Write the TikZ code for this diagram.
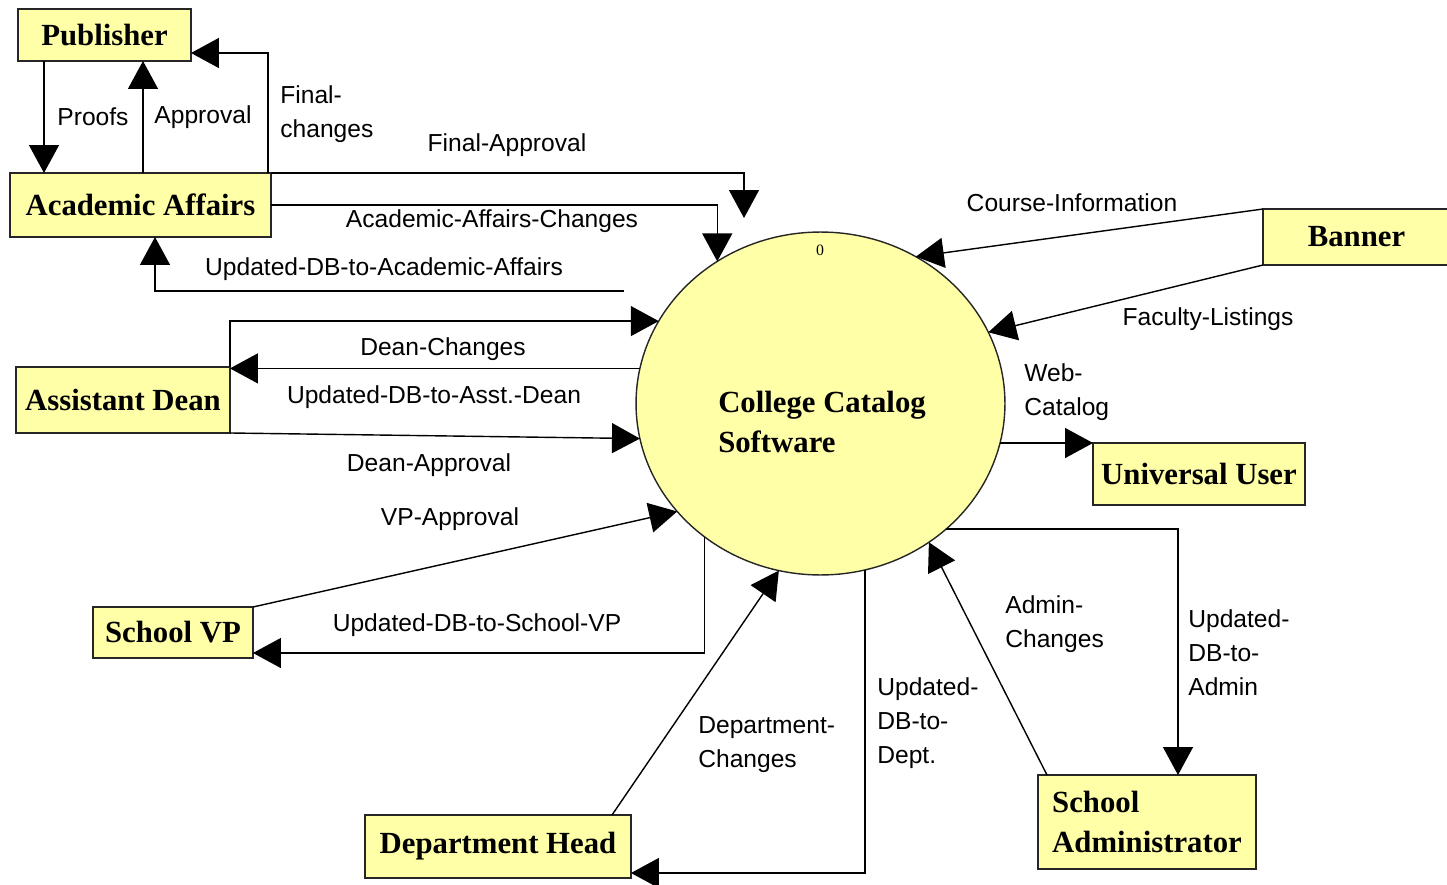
\documentclass[tikz,border=0pt]{standalone}
\usepackage{fontspec}
\setmainfont{Liberation Serif}
\setsansfont{Liberation Sans}
\usetikzlibrary{arrows.meta,shapes.geometric}

\definecolor{boxfill}{HTML}{FFFFA8}

\tikzset{
    entity/.style={draw=black!85, line width=1pt, fill=boxfill, inner sep=0pt, outer sep=0pt,
        font=\fontsize{17.5}{22.8}\selectfont\bfseries},
    flow/.style={draw, line width=0.8pt, -{Triangle[length=0.56cm, width=0.6cm]}},
    lbl/.style={font=\sffamily\fontsize{14}{19.3}\selectfont, inner sep=0pt},
}

\begin{document}
\begin{tikzpicture}[x=0.02cm, y=-0.02cm]
    \useasboundingbox (0,0) rectangle (1447,885);

    % Central process
    \node[ellipse, draw=black!85, line width=0.8pt, fill=boxfill, inner sep=0pt, outer sep=0pt,
        minimum width=7.38cm, minimum height=6.86cm] (ccs) at (820.5,403.5) {};
    \node[font=\fontsize{17.5}{22.8}\selectfont\bfseries, align=left] (ccstext) at (822,422) {College Catalog\\Software};
    \node[font=\fontsize{9}{10}\selectfont] (ccsnum) at (820,250) {0};

    % External entities
    \node[entity, minimum width=3.46cm, minimum height=1.04cm] (pub) at (104.5,35) {Publisher};
    \node[entity, minimum width=5.22cm, minimum height=1.28cm] (acad) at (140.5,205) {Academic Affairs};
    \node[entity, minimum width=3.74cm, minimum height=1.12cm] (banner) at (1356.5,237) {Banner};
    \node[entity, minimum width=4.28cm, minimum height=1.32cm] (adean) at (123,400) {Assistant Dean};
    \node[entity, minimum width=4.24cm, minimum height=1.24cm] (user) at (1199,474) {Universal User};
    \node[entity, minimum width=3.2cm, minimum height=1.02cm] (vp) at (173,632.5) {School VP};
    \node[entity, minimum width=5.32cm, minimum height=1.26cm] (dhead) at (498,846.5) {Department Head};
    \node[entity, minimum width=4.36cm, minimum height=1.88cm, align=left] (sadmin) at (1147,822) {School\\Administrator};

    % Free ends
    \coordinate (fa) at (744,218);
    \coordinate (fb) at (624,291);

    % Publisher <-> Academic Affairs
    \draw[flow] (44,0 |- pub.south) -- (44,0 |- acad.north);
    \draw[flow] (143,0 |- acad.north) -- (143,0 |- pub.south);
    \draw[flow] (268,0 |- acad.north) |- (pub.east |- 0,53);
    \node[lbl] (lproofs) at (93,117) {Proofs};
    \node[lbl] (lapproval) at (203,117) {Approval};
    \node[lbl, anchor=west, align=left] (lfinalch) at (280,114) {Final-\\changes};

    % Academic Affairs <-> process
    \draw[flow] (acad.north east) -| (fa);
    \draw[flow] (acad.east) -| (ccs.126);
    \draw[flow] (fb) -| (155,0 |- acad.south);
    \node[lbl] (lfinalapp) at (507,145) {Final-Approval};
    \node[lbl] (laachanges) at (492,221) {Academic-Affairs-Changes};
    \node[lbl] (ldbaa) at (384,269) {Updated-DB-to-Academic-Affairs};

    % Assistant Dean
    \draw[flow] (adean.north east) |- (ccs.153);
    \draw[flow] (ccs.169) -- (adean.east |- ccs.169);
    \draw[flow] (adean.south east) -- (ccs.191);
    \node[lbl] (ldeanch) at (443,349) {Dean-Changes};
    \node[lbl] (ldbdean) at (434,397) {Updated-DB-to-Asst.-Dean};
    \node[lbl] (ldeanapp) at (429,465) {Dean-Approval};

    % School VP
    \draw[flow] (vp.north east) -- (ccs.217);
    \draw[flow] (ccs.229) |- (vp.east |- 0,653);
    \node[lbl] (lvpapp) at (450,519) {VP-Approval};
    \node[lbl] (ldbvp) at (477,625) {Updated-DB-to-School-VP};

    % Department Head
    \draw[flow] (612,0 |- dhead.north) -- (ccs.256);
    \draw[flow] (ccs.285) |- (dhead.east |- 0,873);
    \node[lbl, anchor=west, align=left] (ldeptch) at (698,745) {Department-\\Changes};
    \node[lbl, anchor=west, align=left] (ldbdept) at (877,723) {Updated-\\DB-to-\\Dept.};

    % School Administrator
    \draw[flow] (1047,0 |- sadmin.north) -- (ccs.308);
    \draw[flow] (ccs.315) -| (1178,0 |- sadmin.north);
    \node[lbl, anchor=west, align=left] (ladminch) at (1005,624) {Admin-\\Changes};
    \node[lbl, anchor=west, align=left] (ldbadmin) at (1188,653) {Updated-\\DB-to-\\Admin};

    % Universal User
    \draw[flow] (ccs.348 |- user.north) -- (user.north west);
    \node[lbl, anchor=west, align=left] (lweb) at (1024,392) {Web-\\Catalog};

    % Banner
    \draw[flow] (banner.north west) -- (ccs.57);
    \draw[flow] (banner.south west) -- (ccs.23);
    \node[lbl] (lcourse) at (1072,203) {Course-Information};
    \node[lbl] (lfaculty) at (1208,319) {Faculty-Listings};
\end{tikzpicture}
\end{document}
